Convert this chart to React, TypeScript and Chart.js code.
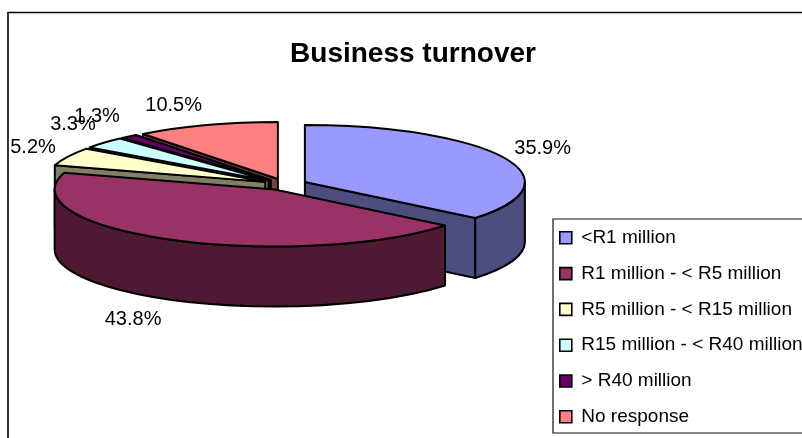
import React, { useEffect, useRef } from "react";
import { Chart } from "chart.js/auto";

const categories = [
  "<R1 million",
  "R1 million - < R5 million",
  "R5 million - < R15 million",
  "R15 million - < R40 million",
  "> R40 million",
  "No response",
];
const values = [35.9, 43.8, 5.2, 3.3, 1.3, 10.5];
const topColors = ["#9999FF", "#993366", "#FFFFCC", "#CCFFFF", "#660066", "#FF8080"];
const sideColors = ["#4D4D80", "#4D1933", "#808066", "#668080", "#330033", "#804040"];
const paintOrder = [5, 4, 3, 2, 0, 1];
const labelNudge = [
  [39, -9],
  [-38, 80],
  [-35, -9],
  [-31, -18],
  [-32, -20],
  [-33, -20],
];

const CX = 285;
const CY = 184.4;
const RX = 220;
const RY = 57;
const DEPTH = 60;
const EXPLODE = 22;
const LINE = 2;
const FONT = "Liberation Sans";
const BOX = { left: 553, top: 219, bottom: 433, right: 804 };

const pie3d = {
  id: "pie3d",
  afterLayout(chart: any) {
    const lg = chart.legend;
    lg.left = 543;
    lg.right = 804;
    lg.top = 211.5;
    lg.bottom = 600;
    lg.width = 261;
  },
  beforeDraw(chart: any) {
    const { ctx } = chart;
    ctx.save();
    ctx.strokeStyle = "#000";
    ctx.lineWidth = 1.6;
    ctx.beginPath();
    ctx.moveTo(8, 438);
    ctx.lineTo(8, 12.5);
    ctx.lineTo(802, 12.5);
    ctx.stroke();
    ctx.lineWidth = 1.2;
    ctx.strokeStyle = "#111";
    ctx.beginPath();
    ctx.moveTo(BOX.right, BOX.top);
    ctx.lineTo(BOX.left, BOX.top);
    ctx.lineTo(BOX.left, BOX.bottom);
    ctx.lineTo(BOX.right, BOX.bottom);
    ctx.stroke();
    ctx.restore();
  },
  beforeDatasetsDraw(chart: any) {
    const { ctx } = chart;
    const arcs = chart.getDatasetMeta(0).data;
    ctx.save();
    ctx.lineJoin = "round";
    ctx.strokeStyle = "#000";
    ctx.lineWidth = LINE;
    for (const i of paintOrder) {
      const arc = arcs[i];
      const a0 = arc.startAngle;
      const a1 = arc.endAngle;
      const mid = (a0 + a1) / 2;
      const cx = CX + Math.cos(mid) * EXPLODE;
      const cy = CY + (Math.sin(mid) * EXPLODE * RY) / RX;
      const rimX = (a: number) => cx + Math.cos(a) * RX;
      const rimY = (a: number) => cy + Math.sin(a) * RY;
      ctx.fillStyle = sideColors[i];
      const face = (a: number) => {
        ctx.beginPath();
        ctx.moveTo(cx, cy);
        ctx.lineTo(rimX(a), rimY(a));
        ctx.lineTo(rimX(a), rimY(a) + DEPTH);
        ctx.lineTo(cx, cy + DEPTH);
        ctx.closePath();
        ctx.fill();
        ctx.stroke();
      };
      if (Math.cos(a0) < -1e-6) face(a0);
      if (Math.cos(a1) > 1e-6) face(a1);
      const w0 = Math.max(a0, 0);
      const w1 = Math.min(a1, Math.PI);
      if (w1 > w0) {
        ctx.beginPath();
        ctx.ellipse(cx, cy, RX, RY, 0, w0, w1);
        ctx.ellipse(cx, cy + DEPTH, RX, RY, 0, w1, w0, true);
        ctx.closePath();
        ctx.fill();
        ctx.stroke();
      }
      ctx.save();
      ctx.translate(cx, cy);
      ctx.scale(RX / arc.outerRadius, RY / arc.outerRadius);
      ctx.translate(-arc.x, -arc.y);
      arc.draw(ctx);
      ctx.restore();
      ctx.beginPath();
      ctx.moveTo(cx, cy);
      ctx.ellipse(cx, cy, RX, RY, 0, a0, a1);
      ctx.closePath();
      ctx.stroke();
    }
    ctx.fillStyle = "#000";
    ctx.font = `20px "${FONT}"`;
    ctx.textAlign = "center";
    ctx.textBaseline = "middle";
    arcs.forEach((arc: any, i: number) => {
      const mid = (arc.startAngle + arc.endAngle) / 2;
      const cx = CX + Math.cos(mid) * EXPLODE;
      const cy = CY + (Math.sin(mid) * EXPLODE * RY) / RX;
      ctx.fillText(
        values[i].toFixed(1) + "%",
        cx + Math.cos(mid) * RX + labelNudge[i][0],
        cy + Math.sin(mid) * RY + labelNudge[i][1]
      );
    });
    ctx.restore();
    return false;
  },
};

export default function App() {
  const ref = useRef<HTMLCanvasElement>(null);
  useEffect(() => {
    const chart = new Chart(ref.current!, {
      type: "pie",
      data: {
        labels: categories,
        datasets: [{ data: values, backgroundColor: topColors, borderWidth: 0 }],
      },
      options: {
        responsive: false,
        animation: false,
        layout: { padding: { left: 24, top: 37 } },
        plugins: {
          tooltip: { enabled: false },
          title: {
            display: true,
            text: "Business turnover",
            color: "#000",
            font: { family: FONT, size: 28, weight: "bold" },
            padding: 0,
          },
          legend: {
            position: "right",
            align: "start",
            labels: {
              color: "#000",
              font: { family: FONT, size: 19 },
              boxWidth: 12,
              boxHeight: 12,
              padding: 16.8,
              generateLabels(c: any) {
                return (Chart as any).overrides.pie.plugins.legend.labels
                  .generateLabels(c)
                  .map((it: any) => ({ ...it, lineWidth: 1.6, strokeStyle: "#000" }));
              },
            },
          },
        },
      },
      plugins: [pie3d],
    } as any);
    return () => chart.destroy();
  }, []);
  return (
    <div style={{ position: "absolute", left: 0, top: 0, width: 802, height: 438, overflow: "hidden", background: "#fff" }}>
      <canvas ref={ref} width={802} height={438} style={{ display: "block" }} />
    </div>
  );
}
